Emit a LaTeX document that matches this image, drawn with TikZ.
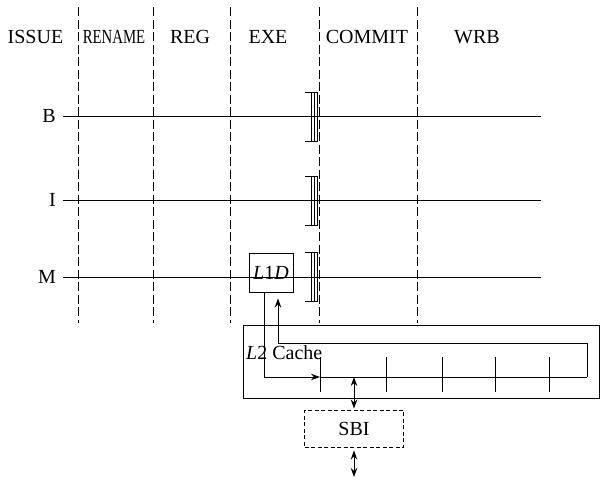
\documentclass[tikz,border=0pt]{standalone}
\usepackage{fontspec}
\setmainfont{Liberation Serif}
\usetikzlibrary{arrows.meta}
\tikzset{
  lbl/.style={inner sep=1pt},
  sep/.style={dash pattern=on 9pt off 3.5pt, line width=0.9pt},
  pipe/.style={line width=0.9pt},
  latch/.style={line width=0.9pt},
  arr/.style={line width=0.9pt,-{Stealth[length=9pt,width=6.5pt]}},
  darr/.style={line width=0.9pt,{Stealth[length=9pt,width=6.5pt]}-{Stealth[length=9pt,width=6.5pt]}},
  box/.style={draw,line width=0.9pt,inner sep=0pt},
  tick/.style={line width=0.9pt},
}
\begin{document}
\begin{tikzpicture}[x=1pt,y=-1pt,font=\fontsize{20}{24}\selectfont]
\useasboundingbox (0,0) rectangle (600,482);
% stage labels
\node[lbl] (issue) at (35.5,37) {ISSUE};
\node[lbl] (rename) at (114,37) {\scalebox{0.74}[1]{RENAME}};
\node[lbl] (reg) at (190,37) {REG};
\node[lbl] (exe) at (268,37) {EXE};
\node[lbl] (commit) at (367,37) {COMMIT};
\node[lbl] (wrb) at (477,37) {WRB};
% stage separators
\foreach \x in {78,153,230,319,417} \draw[sep] (\x,7) -- (\x,323);
% pipelines
\node[inner sep=0pt,anchor=east] (B) at (56,116) {B};
\node[inner sep=0pt,anchor=east] (I) at (56,200) {I};
\node[inner sep=0pt,anchor=east] (M) at (56,277) {M};
\coordinate (Be) at (541,116);
\coordinate (Ie) at (541,200);
\coordinate (Me) at (541,277);
\draw[pipe] ([xshift=7pt]B.east) -- (Be);
\draw[pipe] ([xshift=7pt]I.east) -- (Ie);
\draw[pipe] ([xshift=7pt]M.east |- Me) -- (Me);
% latches
\foreach \y in {117,201,277}{
  \draw[latch] (305,\y-24.5) -- (318,\y-24.5);
  \draw[latch] (305,\y+24) -- (318,\y+24);
  \foreach \x in {311,314,317} \draw[latch] (\x,\y-24.5) -- (\x,\y+24);
}
% L1D
\node[box,minimum width=44,minimum height=39] (l1d) at (271,272.5) {\textit{L}1\textit{D}};
% L2 cache
\node[box,line width=1pt,minimum width=356,minimum height=73,anchor=north west] (l2) at (243,325) {};
\node[lbl,anchor=west] (l2t) at (245,353) {\textit{L}2 Cache};
\coordinate (bus0) at (320,377);
\coordinate (bus1) at (587,377);
\coordinate (busm) at (354,377);
\draw[pipe] (bus0) -- (bus1);
\foreach \x in {320,386,442,495,549} \draw[tick] (\x,357) -- (\x,392);
\draw[arr] ([xshift=-7pt]l1d.south) |- (bus0);
\draw[arr,shorten >=6pt] (bus1) -- (587,343) -| ([xshift=7pt]l1d.south);
% SBI
\node[box,dash pattern=on 4pt off 2.5pt,minimum width=99,minimum height=37] (sbi) at (354,428.5) {SBI};
\coordinate (out) at (354,477);
\draw[darr,shorten >=1pt] (busm) -- (sbi.north);
\draw[darr,shorten <=3pt] (sbi.south) -- (out);
\end{tikzpicture}
\end{document}
